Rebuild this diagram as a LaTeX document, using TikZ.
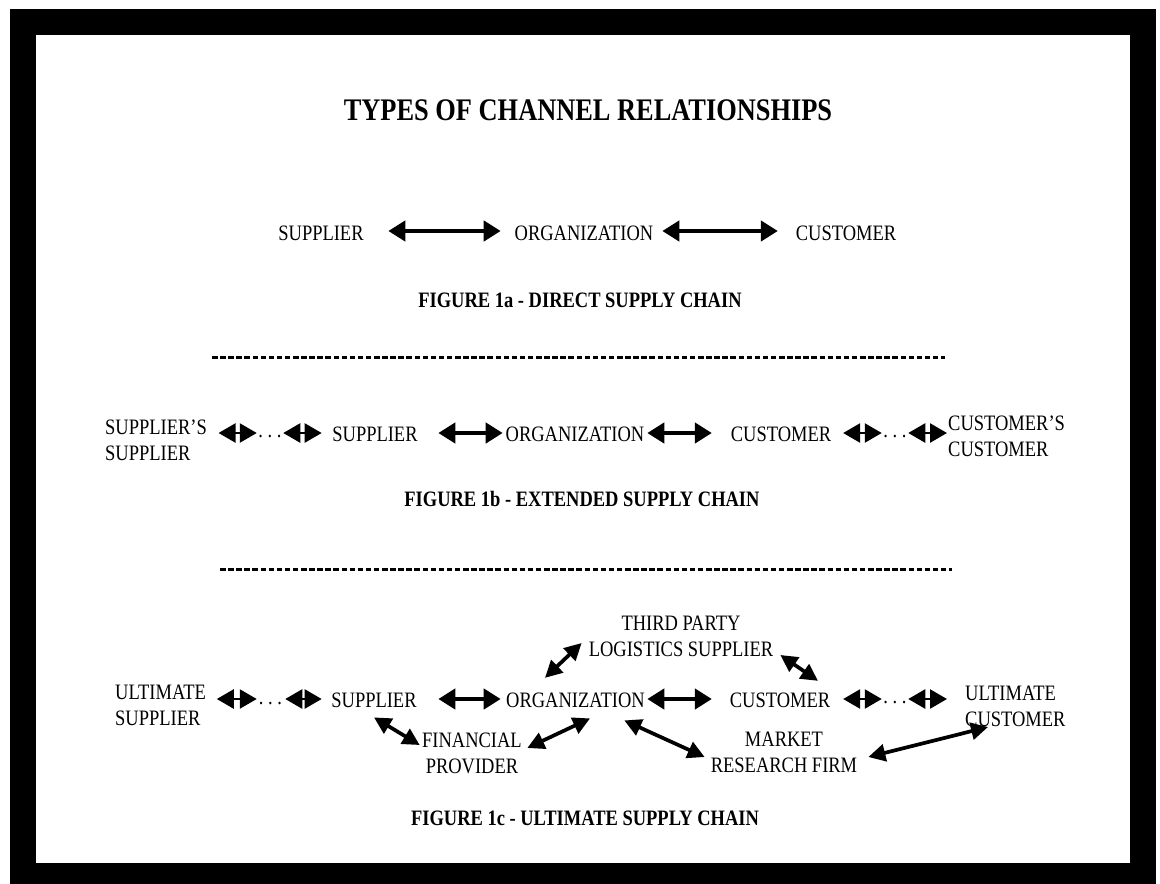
\documentclass[tikz,border=0pt]{standalone}
\usepackage{fontspec}
\setmainfont{Liberation Serif}[FakeStretch=0.84]
\usetikzlibrary{arrows.meta,calc}
\begin{document}
\frenchspacing
\begin{tikzpicture}[x=1pt,y=-1pt,
  lbl/.style={inner sep=0pt, font=\fontsize{22}{26}\selectfont},
  figcap/.style={inner sep=0pt, font=\fontsize{22}{26}\selectfont\bfseries},
  headline/.style={inner sep=0pt, font=\fontsize{31.4}{36}\selectfont\bfseries},
  bigarrow/.style={line width=4.5pt, {Triangle[length=17pt,width=20pt]}-{Triangle[length=17pt,width=20pt]}},
  tinyarrow/.style={line width=2.5pt, {Triangle[length=17pt,width=19pt]}-{Triangle[length=17pt,width=19pt]}},
  diagarrow/.style={line width=3.7pt, {Triangle[length=17pt,width=17pt]}-{Triangle[length=17pt,width=17pt]}},
  divider/.style={line width=3pt, dash pattern=on 5.5pt off 2.6pt},
]
% page and black frame
\fill[white] (0,0) rectangle (1160,884);
\useasboundingbox (0,0) rectangle (1160,884);
\fill[black] (10,9) rectangle (1156,884);
\fill[white] (36,35) rectangle (1130,863);

% title
\node[headline,anchor=base] (title) at (588,120) {TYPES OF CHANNEL RELATIONSHIPS};

% ---- direct supply chain ----
\coordinate (r1) at (0,231);
\node[lbl,anchor=base] (s1) at (321,240) {SUPPLIER};
\node[lbl,anchor=base] (o1) at (584,240) {ORGANIZATION};
\node[lbl,anchor=base] (c1) at (846,240) {CUSTOMER};
\draw[bigarrow,shorten <=24.5pt,shorten >=13.8pt] (s1.east|-r1) -- (o1.west|-r1);
\draw[bigarrow,shorten <=8.8pt,shorten >=17.8pt] (o1.east|-r1) -- (c1.west|-r1);
\node[figcap,anchor=base] (f1) at (580,307) {FIGURE 1a - DIRECT SUPPLY CHAIN};

\draw[divider] (212,357) -- (945,357);

% ---- extended supply chain ----
\coordinate (r2) at (0,433);
\node[lbl,align=left,anchor=north west] (ss) at (105,420) {SUPPLIER’S\\SUPPLIER};
\node[lbl,anchor=base] (d1) at (270,437) {. . .};
\node[lbl,anchor=base] (s2) at (375,441) {SUPPLIER};
\node[lbl,anchor=base] (o2) at (575,441) {ORGANIZATION};
\node[lbl,anchor=base] (c2) at (781,441) {CUSTOMER};
\node[lbl,anchor=base] (d2) at (895,437) {. . .};
\node[lbl,align=left,anchor=north west] (cc) at (948,416) {CUSTOMER’S\\CUSTOMER};
\draw[tinyarrow,shorten <=11.5pt,shorten >=1.5pt] (ss.east|-r2) -- (d1.west|-r2);
\draw[tinyarrow,shorten <=1.5pt,shorten >=10.5pt] (d1.east|-r2) -- (s2.west|-r2);
\draw[bigarrow,shorten <=20.5pt,shorten >=2.8pt] (s2.east|-r2) -- (o2.west|-r2);
\draw[bigarrow,shorten <=2.8pt,shorten >=18.8pt] (o2.east|-r2) -- (c2.west|-r2);
\draw[tinyarrow,shorten <=11.8pt,shorten >=1.5pt] (c2.east|-r2) -- (d2.west|-r2);
\draw[tinyarrow,shorten <=1.5pt,shorten >=1pt] (d2.east|-r2) -- (cc.west|-r2);
\node[figcap,anchor=base] (f2) at (582,506) {FIGURE 1b - EXTENDED SUPPLY CHAIN};

\draw[divider] (220,569) -- (952,569);

% ---- ultimate supply chain ----
\coordinate (r3) at (0,699);
\node[lbl,align=left,anchor=north west] (us) at (115,685) {ULTIMATE\\SUPPLIER};
\node[lbl,anchor=base] (d3) at (270.5,704) {. . .};
\node[lbl,anchor=base] (s3) at (374,707) {SUPPLIER};
\node[lbl,anchor=base] (o3) at (575.5,707) {ORGANIZATION};
\node[lbl,anchor=base] (c3) at (780,707) {CUSTOMER};
\node[lbl,anchor=base] (d4) at (895,703) {. . .};
\node[lbl,align=left,anchor=north west] (uc) at (965,686) {ULTIMATE\\CUSTOMER};
\node[lbl,align=center,anchor=north] (tp) at (681,616) {THIRD PARTY\\LOGISTICS SUPPLIER};
\node[lbl,align=center,anchor=north] (fp) at (472,733) {FINANCIAL\\PROVIDER};
\node[lbl,align=center,anchor=north] (mr) at (784,732) {MARKET\\RESEARCH FIRM};

\draw[tinyarrow,shorten <=10.7pt,shorten >=2pt] (us.east|-r3) -- (d3.west|-r3);
\draw[tinyarrow,shorten <=3pt,shorten >=9.5pt] (d3.east|-r3) -- (s3.west|-r3);
\draw[bigarrow,shorten <=21.5pt,shorten >=5.3pt] (s3.east|-r3) -- (o3.west|-r3);
\draw[bigarrow,shorten <=2.3pt,shorten >=17.8pt] (o3.east|-r3) -- (c3.west|-r3);
\draw[tinyarrow,shorten <=12.8pt,shorten >=1.5pt] (c3.east|-r3) -- (d4.west|-r3);
\draw[tinyarrow,shorten <=1.5pt,shorten >=18pt] (d4.east|-r3) -- (uc.west|-r3);

\draw[diagarrow] ($(o3.north)+(-30.5,-14.4)$) -- ($(tp.north west)+(-7,27)$);
\draw[diagarrow] ($(tp.north east)+(7,39)$) -- ($(c3.north)+(38,-11.4)$);
\draw[diagarrow] ($(s3.south)+(0,10)$) -- ($(fp.north west)+(-2.3,12)$);
\draw[diagarrow] ($(fp.north east)+(5.3,15)$) -- ($(o3.south)+(14.5,11)$);
\draw[diagarrow] ($(o3.south east)+(-20.7,13)$) -- ($(mr.north west)+(-6,25)$);
\draw[diagarrow] ($(mr.north east)+(11,25)$) -- ($(uc.north west)+(23,41)$);

\node[figcap,anchor=base] (f3) at (585,825) {FIGURE 1c - ULTIMATE SUPPLY CHAIN};
\end{tikzpicture}
\end{document}
